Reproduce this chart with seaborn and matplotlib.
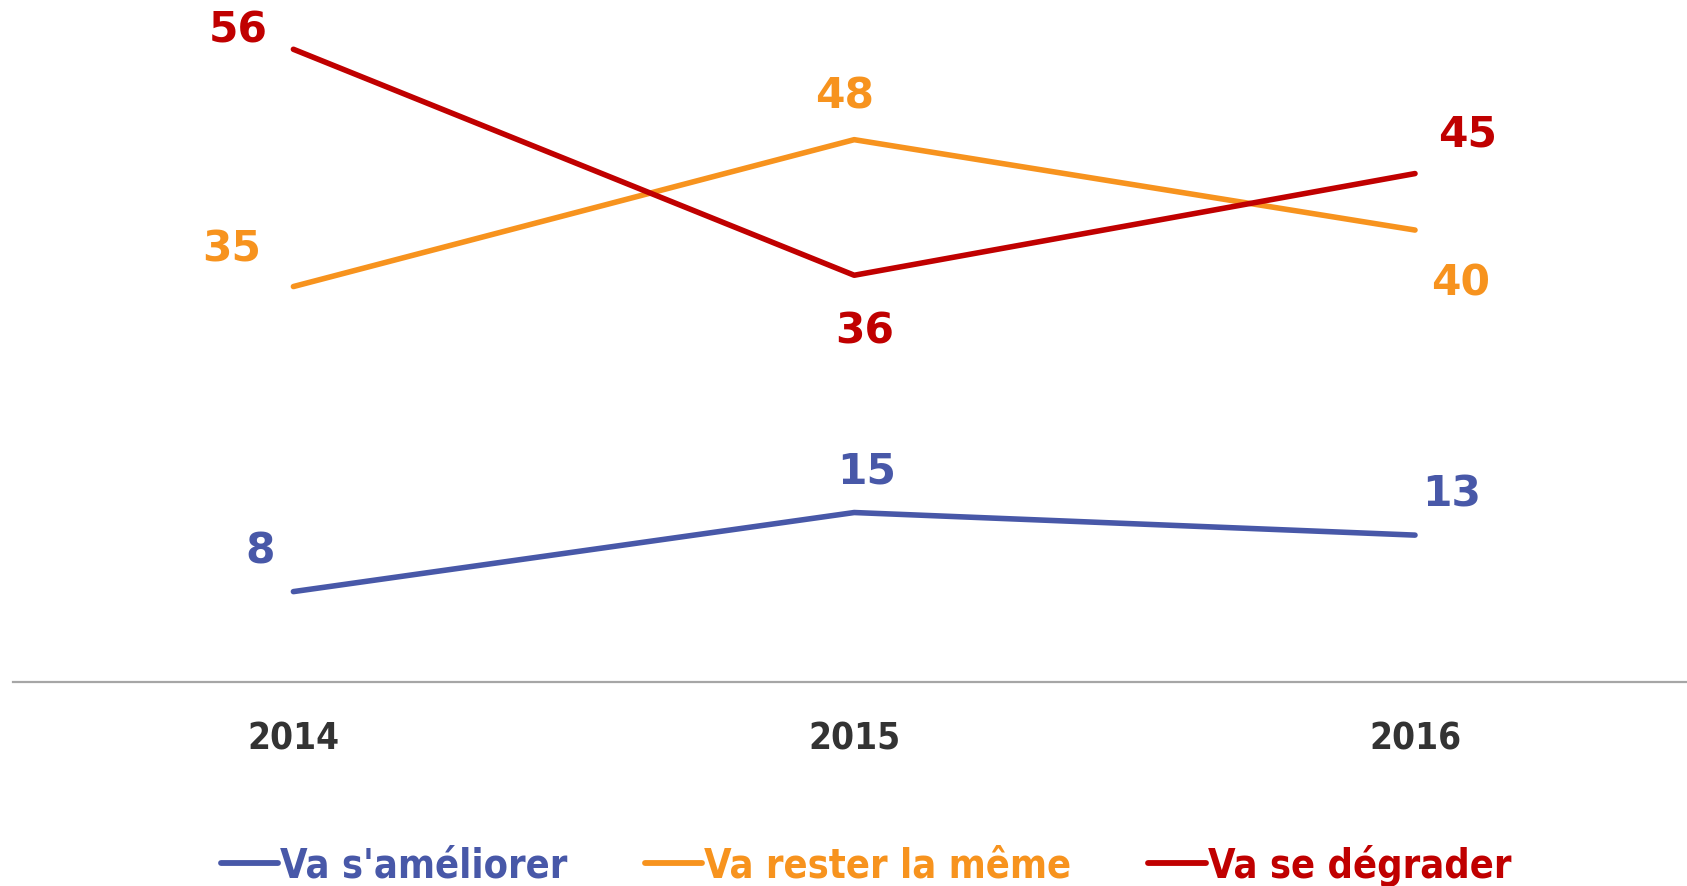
import pandas as pd
import seaborn as sns
import matplotlib.pyplot as plt

# data
years = ["2014", "2015", "2016"]
ameliorer = [8, 15, 13]
rester = [35, 48, 40]
degrader = [56, 36, 45]
series_names = ["Va s'améliorer", "Va rester la même", "Va se dégrader"]
colors = ["#4858A8", "#F7931E", "#C00000"]

df = pd.DataFrame({
    "year": years * 3,
    "value": ameliorer + rester + degrader,
    "serie": [s for s in series_names for _ in years],
})

sns.set_style("white")
plt.rcParams["font.family"] = ["DejaVu Sans"]

fig = plt.figure(figsize=(16.87, 8.87), dpi=100)
ax = fig.add_axes([13 / 1687, 1 - 683 / 887, 1 - 13 / 1687, 683 / 887])

sns.lineplot(data=df, x="year", y="value", hue="serie", palette=colors,
             linewidth=4, ax=ax, sort=False, legend=False)
for ln in ax.lines:
    ln.set_solid_capstyle("round")

ax.set_xlim(-0.5, 2.485)
ax.set_ylim(0, 60.45)
ax.set_xlabel("")
ax.set_ylabel("")
ax.set_yticks([])
for s in ["top", "left", "right"]:
    ax.spines[s].set_visible(False)
ax.spines["bottom"].set_color("#A6A6A6")
ax.spines["bottom"].set_linewidth(1.6)
ax.tick_params(axis="x", length=0, pad=27)
for lab in ax.get_xticklabels():
    lab.set_fontsize(26.5)
    lab.set_fontweight("bold")
    lab.set_fontstretch("condensed")
    lab.set_color("#333333")

# value labels, offsets in pixels
offsets = {
    0: [(-33, 41), (12, 42), (37, 42)],
    1: [(-62, 38), (-10, 44), (46, -52)],
    2: [(-55, 20), (10, -55), (53, 40)],
}
all_vals = [ameliorer, rester, degrader]
for i, vals in enumerate(all_vals):
    for j, v in enumerate(vals):
        ax.annotate(str(v), (j, v), xytext=offsets[i][j], textcoords="offset pixels",
                    ha="center", va="center", fontsize=30.5, fontweight="bold",
                    color=colors[i], annotation_clip=False)

handles = [plt.Line2D([], [], color=c, lw=4.2, solid_capstyle="round") for c in colors]
leg = fig.legend(handles, series_names, loc="center", bbox_to_anchor=(866 / 1687, 1 - 866 / 887),
                 ncol=3, frameon=False, handlelength=1.45, handletextpad=0.05,
                 columnspacing=1.95, prop={"size": 28.5, "weight": "bold", "stretch": "condensed"})
for t, c in zip(leg.get_texts(), colors):
    t.set_color(c)

fig.savefig("out.png", dpi=100)
